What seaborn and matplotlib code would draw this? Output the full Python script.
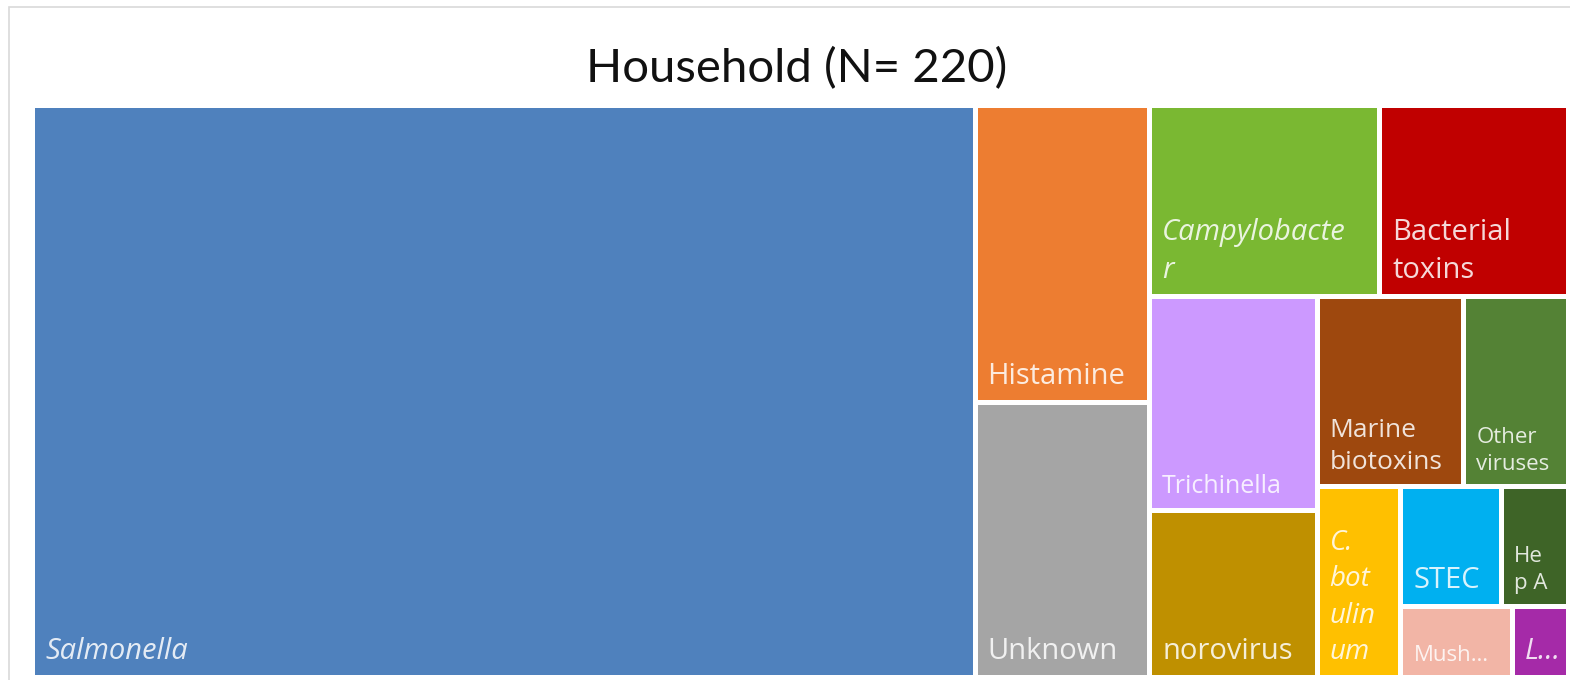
import matplotlib
matplotlib.use("Agg")
import matplotlib.pyplot as plt
from matplotlib.patches import Rectangle
import seaborn as sns

# ─────────────────────────────────────────────
# Treemap — outbreaks by causative agent, household setting
# ─────────────────────────────────────────────

agents = ["Salmonella", "Histamine", "Unknown", "Campylobacter", "Bacterial toxins",
          "Trichinella", "norovirus", "Marine biotoxins", "Other viruses",
          "C. botulinum", "STEC", "Hep A", "Mushrooms", "Listeria"]
outbreaks = [135, 13, 12, 11, 9, 9, 7, 7, 5, 4, 3, 2, 2, 1]
shown_labels = ["Salmonella", "Histamine", "Unknown", "Campylobacte\nr", "Bacterial\ntoxins",
                "Trichinella", "norovirus", "Marine\nbiotoxins", "Other\nviruses",
                "C.\nbot\nulin\num", "STEC", "He\np A", "Mush…", "L…"]
italic_agents = ["Salmonella", "Campylobacter", "C. botulinum", "Listeria"]

colors = ["#4F81BD", "#ED7D31", "#A5A5A5", "#7AB832", "#C00000",
          "#CC99FF", "#BF9000", "#9E480E", "#548235",
          "#FFC000", "#00B0F0", "#3E6427", "#F2B5A6", "#A52AA8"]

label_size = {"Trichinella": 18, "Marine biotoxins": 19, "Other viruses": 16,
              "Hep A": 16, "Mushrooms": 16, "C. botulinum": 20}

# strips of the slice layout: direction and number of tiles in each
strips = [("col", 1), ("col", 2), ("row", 2), ("col", 2),
          ("row", 2), ("col", 1), ("row", 2), ("row", 2)]


def strip_layout(values, strips, x, y, w, h):
    rects = []
    i = 0
    for direction, n in strips:
        group = values[i:i + n]
        frac = sum(group) / sum(values[i:])
        if direction == "col":
            cw = w * frac
            top = y + h
            for v in group:
                rh = h * v / sum(group)
                rects.append((x, top - rh, cw, rh))
                top -= rh
            x += cw
            w -= cw
        else:
            rh = h * frac
            left = x
            for v in group:
                rw = w * v / sum(group)
                rects.append((left, y + h - rh, rw, rh))
                left += rw
            h -= rh
        i += n
    return rects


sns.set_theme(style="white")
plt.rcParams["font.family"] = ["Open Sans", "DejaVu Sans"]

W, H = 1570, 680
fig = plt.figure(figsize=(W / 100, H / 100), dpi=100)
palette = sns.color_palette(colors)

# plot area in pixel units so the gaps are easy to set
px0, py_top, pw, ph = 32.5, 105.5, 1536, 572
ax = fig.add_axes([px0 / W, 1 - (py_top + ph) / H, pw / W, ph / H])
ax.set_xlim(0, pw)
ax.set_ylim(0, ph)
ax.axis("off")

gap = 2.5
rects = strip_layout(outbreaks, strips, 0, 0, pw, ph)
for (x, y, w, h), name, lab, col in zip(rects, agents, shown_labels, palette):
    ax.add_patch(Rectangle((x + gap, y + gap), w - 2 * gap, h - 2 * gap,
                           facecolor=col, edgecolor="none"))
    ax.text(x + gap + 10, y + gap + 9, lab, ha="left", va="bottom",
            fontsize=label_size.get(name, 21), color="white", alpha=0.85,
            style="italic" if name in italic_agents else "normal",
            linespacing=1.4)

fig.text(797 / W, 1 - 82 / H, "Household (N= 220)", ha="center", va="baseline",
         fontsize=34, family=["Lato", "DejaVu Sans"], color="#111111")

# chart area border
fig.patches.append(Rectangle((9 / W, -0.05), 1.1, 1 - 7 / H + 0.05,
                             transform=fig.transFigure, facecolor="none",
                             edgecolor="#d9d9d9", linewidth=1.2))

fig.savefig("out.png", dpi=100)
plt.close(fig)
